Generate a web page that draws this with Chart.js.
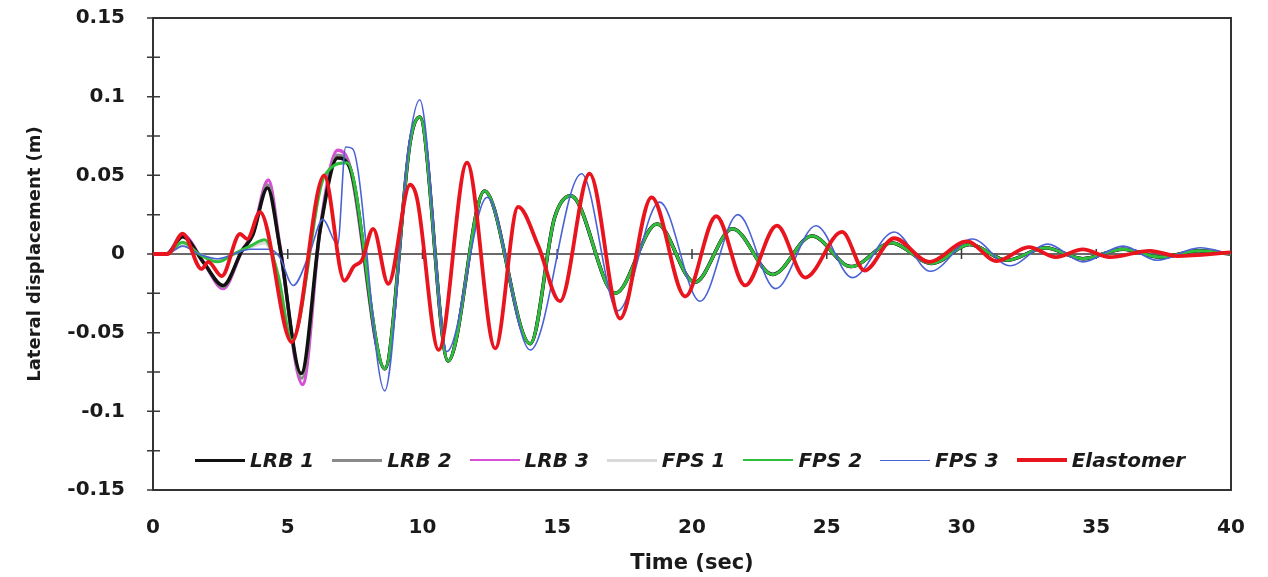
<!DOCTYPE html>
<html lang="en">
<head>
    <meta charset="UTF-8">
    <title>Lateral displacement</title>
    <script src="https://cdn.jsdelivr.net/npm/chart.js"></script>
    <style>
        html, body {
            margin: 0;
            padding: 0;
            background: #fff;
        }

        #chartContainer {
            position: relative;
            width: 1268px;
            height: 577px;
        }

        .legend {
            position: absolute;
            left: 195px;
            top: 448px;
            display: flex;
            align-items: center;
            font-family: "DejaVu Sans", sans-serif;
            font-weight: bold;
            font-style: italic;
            font-size: 20px;
            color: #1a1a1a;
        }

        .legend .item {
            display: flex;
            align-items: center;
            margin-right: 18px;
        }

        .legend .swatch {
            width: 50px;
            margin-right: 5px;
        }
    </style>
</head>
<body>
    <div id="chartContainer">
        <canvas id="chart" width="1268" height="577"></canvas>
        <div class="legend" id="legend"></div>
    </div>

    <script>
        // Key points (time in s, displacement in m) for each isolator response
        const lrb1T = [0, 0.5, 1.1, 1.9, 2.6, 3.3, 3.7, 4.25, 4.7, 5.5, 6.2, 6.85, 7.3];
        const lrb1V = [0, 0, 0.011, -0.006, -0.020, 0.002, 0.012, 0.042, 0.005, -0.076, 0.015, 0.061, 0.055];
        const lrb2T = [0, 0.5, 1.1, 1.9, 2.6, 3.3, 3.7, 4.26, 4.7, 5.52, 6.2, 6.85, 7.3];
        const lrb2V = [0, 0, 0.011, -0.006, -0.021, 0.002, 0.012, 0.044, 0.005, -0.079, 0.015, 0.063, 0.055];
        const lrb3T = [0, 0.5, 1.1, 1.9, 2.6, 3.3, 3.7, 4.28, 4.7, 5.55, 6.2, 6.85, 7.3];
        const lrb3V = [0, 0, 0.012, -0.006, -0.022, 0.002, 0.013, 0.047, 0.006, -0.083, 0.016, 0.066, 0.056];
        const fps1T = [0, 0.5, 1.1, 1.7, 2.4, 3.0, 3.6, 4.15, 4.65, 5.15, 6.35, 7.2];
        const fps1V = [0, 0, 0.006, 0, -0.004, 0, 0.004, 0.007, -0.014, -0.055, 0.049, 0.058];
        const fps2T = [0, 0.5, 1.1, 1.7, 2.4, 3.0, 3.6, 4.15, 4.65, 5.15, 6.35, 7.2];
        const fps2V = [0, 0, 0.0075, 0, -0.005, 0, 0.005, 0.009, -0.014, -0.055, 0.049, 0.058];

        // common decay after the main pulse (LRB and FPS 1/2 run together)
        const tailT = [8.6, 9.55, 9.9, 10.95, 12.3, 14.0, 14.9, 15.5, 17.15, 18.7, 20.1, 21.5, 23.0, 24.45,
            25.9, 27.4, 28.9, 30.3, 31.7, 33.1, 34.5, 36.0, 37.4, 38.8, 40];
        const tailV = [-0.073, 0.072, 0.087, -0.068, 0.040, -0.057, 0.023, 0.037, -0.025, 0.019, -0.018, 0.016, -0.013, 0.0115,
            -0.008, 0.007, -0.006, 0.006, -0.004, 0.004, -0.003, 0.003, -0.002, 0.002, 0];

        const fps3T = [0, 0.5, 1.1, 1.7, 2.4, 3.0, 3.6, 4.3, 4.7, 5.2, 5.8, 6.3, 6.85, 7.15, 7.4, 8.6, 9.5, 9.9, 10.9,
            12.4, 14.0, 15.9, 17.25, 18.8, 20.3, 21.7, 23.1, 24.6, 25.95, 27.5, 28.85, 30.4, 31.8, 33.2, 34.5,
            36.0, 37.25, 38.85, 40];
        const fps3V = [0, 0, 0.005, 0, -0.003, 0, 0.003, 0.003, -0.002, -0.020, 0, 0.022, 0.006, 0.068, 0.067, -0.087, 0.070, 0.098, -0.062,
            0.036, -0.061, 0.051, -0.036, 0.033, -0.030, 0.025, -0.022, 0.018, -0.015, 0.014, -0.011, 0.0095, -0.0075, 0.0063, -0.005,
            0.005, -0.004, 0.004, 0];

        const elastT = [0, 0.55, 1.1, 1.8, 2.05, 2.55, 3.23, 3.5, 3.97, 5.15, 6.35, 7.1, 7.45, 7.75, 8.17, 8.73, 9.54, 9.8, 10.6,
            11.65, 12.7, 13.55, 14.3, 15.1, 16.2, 17.33, 18.5, 19.75, 20.9, 21.97, 23.15, 24.2, 25.57, 26.4, 27.5,
            28.8, 30.2, 31.3, 32.5, 33.5, 34.5, 35.5, 37.0, 38.0, 40];
        const elastV = [0, 0, 0.013, -0.0095, -0.005, -0.014, 0.0127, 0.0095, 0.0266, -0.056, 0.050, -0.017, -0.008, -0.004, 0.016, -0.019, 0.044, 0.035, -0.061,
            0.058, -0.060, 0.030, 0.005, -0.030, 0.051, -0.041, 0.036, -0.027, 0.024, -0.020, 0.018, -0.015, 0.014, -0.0105, 0.010,
            -0.005, 0.008, -0.0045, 0.0044, -0.002, 0.003, -0.002, 0.002, -0.0013, 0.001];

        const yTicks = [-0.15, -0.1, -0.05, 0, 0.05, 0.1, 0.15];

        function pts(t, v) {
            return t.map((x, i) => ({ x: x, y: v[i] }));
        }

        const series = [
            { label: 'Elastomer', data: pts(elastT, elastV), color: '#e8141e', width: 3.8, order: 0, key: 4 },
            { label: 'FPS 3', data: pts(fps3T, fps3V), color: '#4a62d6', width: 1.6, order: 1, key: 1.5 },
            { label: 'FPS 2', data: pts(fps2T, fps2V).concat(pts(tailT, tailV)), color: '#2fbf3a', width: 3, order: 2, key: 2 },
            { label: 'LRB 1', data: pts(lrb1T, lrb1V).concat(pts(tailT, tailV)), color: '#111111', width: 3.5, order: 3, key: 3 },
            { label: 'LRB 2', data: pts(lrb2T, lrb2V).concat(pts(tailT, tailV)), color: '#8a8a8a', width: 3, order: 4, key: 3 },
            { label: 'LRB 3', data: pts(lrb3T, lrb3V).concat(pts(tailT, tailV)), color: '#d64fd6', width: 3.5, order: 5, key: 2 },
            { label: 'FPS 1', data: pts(fps1T, fps1V).concat(pts(tailT, tailV)), color: '#d9d9d9', width: 3, order: 6, key: 3 }
        ];

        const legendOrder = ['LRB 1', 'LRB 2', 'LRB 3', 'FPS 1', 'FPS 2', 'FPS 3', 'Elastomer'];

        // frame, zero line and crossing tick marks
        const axesPlugin = {
            id: 'axesFrame',
            beforeDatasetsDraw(chart) {
                const { ctx, chartArea: a, scales: { x, y } } = chart;
                const y0 = y.getPixelForValue(0);
                ctx.save();
                ctx.strokeStyle = '#3a3a3a';
                ctx.lineWidth = 1.5;
                ctx.beginPath();
                ctx.moveTo(a.left, y0);
                ctx.lineTo(a.right, y0);
                x.ticks.forEach(t => {
                    if (t.value <= 0 || t.value >= 40) return;
                    const px = x.getPixelForValue(t.value);
                    ctx.moveTo(px, y0 - 5);
                    ctx.lineTo(px, y0 + 5);
                });
                y.ticks.forEach(t => {
                    const py = y.getPixelForValue(t.value);
                    ctx.moveTo(a.left - 6, py);
                    ctx.lineTo(a.left + 7, py);
                });
                ctx.stroke();
                ctx.lineWidth = 2;
                ctx.strokeStyle = '#333';
                ctx.strokeRect(a.left, a.top, a.right - a.left, a.bottom - a.top);
                ctx.restore();
            }
        };

        const ctx = document.getElementById('chart').getContext('2d');
        const chart = new Chart(ctx, {
            type: 'line',
            data: {
                datasets: series.map(s => ({
                    label: s.label,
                    data: s.data,
                    borderColor: s.color,
                    backgroundColor: s.color,
                    borderWidth: s.width,
                    order: s.order,
                    pointRadius: 0,
                    cubicInterpolationMode: 'monotone',
                    fill: false
                }))
            },
            options: {
                responsive: false,
                animation: false,
                layout: { padding: { left: 0, top: 18, right: 37, bottom: 0 } },
                plugins: {
                    legend: { display: false },
                    tooltip: { enabled: false }
                },
                scales: {
                    x: {
                        type: 'linear',
                        min: 0,
                        max: 40,
                        afterFit: s => { s.height = 87; },
                        ticks: {
                            stepSize: 5,
                            padding: 18,
                            color: '#1a1a1a',
                            font: { family: 'DejaVu Sans', weight: 'bold', size: 20 }
                        },
                        grid: { display: false },
                        border: { display: false },
                        title: {
                            display: true,
                            text: 'Time (sec)',
                            color: '#1a1a1a',
                            padding: { top: 0, bottom: 1 },
                            font: { family: 'DejaVu Sans', weight: 'bold', size: 21 }
                        }
                    },
                    y: {
                        min: -0.15,
                        max: 0.15,
                        afterFit: s => {
                            s.width = 153;
                            s.paddingTop = 0;
                            s.paddingBottom = 0;
                        },
                        afterBuildTicks: s => {
                            // major labels every 0.05, unlabeled minor marks between
                            const list = [];
                            yTicks.forEach((v, i) => {
                                list.push({ value: v });
                                if (i < yTicks.length - 1) list.push({ value: (v + yTicks[i + 1]) / 2, minor: true });
                            });
                            s.ticks = list;
                        },
                        ticks: {
                            padding: 20,
                            color: '#1a1a1a',
                            font: { family: 'DejaVu Sans', weight: 'bold', size: 20 },
                            callback: (value, i, ticks) => ticks[i].minor ? '' : String(parseFloat(value.toFixed(3)))
                        },
                        grid: { display: false },
                        border: { display: false },
                        title: {
                            display: true,
                            text: 'Lateral displacement (m)',
                            color: '#1a1a1a',
                            padding: { top: 25, bottom: 0 },
                            font: { family: 'DejaVu Sans', weight: 'bold', size: 18 }
                        }
                    }
                }
            },
            plugins: [axesPlugin]
        });

        // legend drawn inside the plot area
        const legend = document.getElementById('legend');
        legendOrder.forEach(name => {
            const s = series.find(d => d.label === name);
            const item = document.createElement('div');
            item.className = 'item';
            const sw = document.createElement('span');
            sw.className = 'swatch';
            sw.style.borderTop = s.key + 'px solid ' + s.color;
            const txt = document.createElement('span');
            txt.textContent = name;
            item.appendChild(sw);
            item.appendChild(txt);
            legend.appendChild(item);
        });
    </script>
</body>
</html>
